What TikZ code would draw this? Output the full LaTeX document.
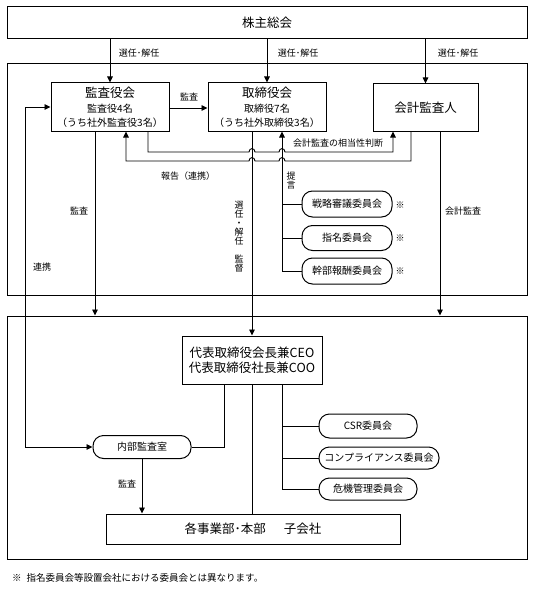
\documentclass[tikz,border=0pt]{standalone}
\usepackage{fontspec}
\setmainfont{Noto Sans CJK JP}
\usetikzlibrary{arrows.meta}
\begin{document}
\begin{tikzpicture}[x=1pt,y=-1pt,
  every node/.style={inner sep=0pt},
  box/.style={draw, line width=1pt, align=center},
  frame/.style={draw, line width=1pt},
  pill/.style={draw, line width=1pt, rounded corners=10.5pt, align=center, font=\fontsize{10}{12}\selectfont},
  lbl/.style={font=\fontsize{9}{10}\selectfont},
  vlbl/.style={font=\fontsize{9}{9}\selectfont, align=center},
  conn/.style={line width=0.9pt},
  arr/.style={conn, -{Triangle[length=6pt,width=5.5pt]}},
  arrboth/.style={conn, {Triangle[length=6pt,width=5.5pt]}-{Triangle[length=6pt,width=5.5pt]}},
]
\useasboundingbox (0,0) rectangle (533,591);

% frames and boxes
\node[box, minimum width=520, minimum height=32, font=\fontsize{12.5}{14}\selectfont] (gm) at (267,23) {株主総会};
\node[frame, minimum width=520, minimum height=231] (f1) at (267,179.5) {};
\node[frame, minimum width=520, minimum height=243] (f2) at (267,437.5) {};

\node[box, minimum width=118, minimum height=48, font=\fontsize{10}{13.5}\selectfont] (kansa) at (110,107)
  {{\fontsize{12.5}{13.5}\selectfont 監査役会}\\[2pt]監査役4名\\（うち社外監査役3名）};
\node[box, minimum width=118, minimum height=48, font=\fontsize{10}{13.5}\selectfont] (tori) at (267,107)
  {{\fontsize{12.5}{13.5}\selectfont 取締役会}\\[2pt]取締役7名\\（うち社外取締役3名）};
\node[box, minimum width=105, minimum height=47, font=\fontsize{12.5}{14}\selectfont] (kaikei) at (425.5,107.5) {会計監査人};

\node[pill, minimum width=90, minimum height=26] (senryaku) at (347,204) {戦略審議委員会};
\node[pill, minimum width=90, minimum height=25] (shimei) at (347,238) {指名委員会};
\node[pill, minimum width=90, minimum height=26] (kanbu) at (347,271) {幹部報酬委員会};

\node[box, minimum width=140, minimum height=48, font=\fontsize{12.5}{15}\selectfont] (ceo) at (252,360)
  {代表取締役会長兼CEO\\代表取締役社長兼COO};
\node[pill, minimum width=98, minimum height=23] (naibu) at (142,447) {内部監査室};
\node[pill, minimum width=98, minimum height=24] (csr) at (368,426) {CSR委員会};
\node[pill, minimum width=120, minimum height=22] (comp) at (379,458) {コンプライアンス委員会};
\node[pill, minimum width=98, minimum height=22] (kiki) at (368,489) {危機管理委員会};
\node[box, minimum width=294, minimum height=30, font=\fontsize{12.5}{14}\selectfont] (jigyo) at (253,529)
  {各事業部･本部\hspace{18pt}子会社};

% election arrows
\draw[arr] (gm.south -| kansa.north) -- (kansa.north);
\draw[arr] (gm.south -| tori.north) -- (tori.north);
\draw[arr] (gm.south -| kaikei.north) -- (kaikei.north);
\node[lbl] (l1) at (139,53) {選任･解任};
\node[lbl] (l2) at (298,53) {選任･解任};
\node[lbl] (l3) at (458,53) {選任･解任};

% kansa -> tori
\draw[arr] (kansa.east |- 0,108) -- (tori.west |- 0,108);
\node[lbl] (l4) at (189,97) {監査};

% renkei
\draw[arrboth] (kansa.west) -- (25,107) |- (naibu.west);
\node[lbl] (l5) at (42,267) {連携};

% kansa audit down
\draw[arr] (kansa.south -| 95,0) -- (f2.north -| 95,0);
\node[lbl] (l6) at (79,211) {監査};

% soutousei
\draw[arr] (kansa.south -| 148,0) -- (148,152) -- (249,152)
  .. controls (249,147.5) and (255,147.5) .. (255,152) -- (279,152)
  .. controls (279,147.5) and (285,147.5) .. (285,152) -- (393,152) -- (kaikei.south -| 393,0);
\node[lbl] (l7) at (338,143) {会計監査の相当性判断};

% houkoku
\draw[arr] (kaikei.south -| 411,0) -- (411,161) -- (285,161)
  .. controls (285,156.5) and (279,156.5) .. (279,161) -- (255,161)
  .. controls (255,156.5) and (249,156.5) .. (249,161) -- (126,161) -- (kansa.south -| 126,0);
\node[lbl] (l8) at (188,176) {報告（連携）};

% tori -> ceo
\draw[arr] (tori.south -| 252,0) -- (ceo.north -| 252,0);
\node[vlbl] (l9) at (239,237) {選\\任\\・\\解\\任\\[9pt]監\\督};

% teigen
\draw[arr] (kanbu.west -| 282,0) -- (tori.south -| 282,0);
\draw[conn] (senryaku.west -| 282,0) -- (senryaku.west);
\draw[conn] (shimei.west -| 282,0) -- (shimei.west);
\draw[conn] (kanbu.west -| 282,0) -- (kanbu.west);
\node[vlbl] (l10) at (291,181) {提\\言};
\node[lbl] (m1) at (400,205) {※};
\node[lbl] (m2) at (400,238) {※};
\node[lbl] (m3) at (400,271) {※};

% kaikei audit
\draw[arr] (kaikei.south -| 440,0) -- (f2.north -| 440,0);
\node[lbl] (l11) at (463,211) {会計監査};

% ceo lines
\draw[conn] (ceo.south -| 224,0) |- (naibu.east);
\draw[conn] (ceo.south -| 252,0) -- (jigyo.north -| 252,0);
\draw[conn] (ceo.south -| 282,0) |- (kiki.west);
\draw[conn] (csr.west -| 282,0) -- (csr.west);
\draw[conn] (comp.west -| 282,0) -- (comp.west);

% naibu audit
\draw[arr] (naibu.south) -- (jigyo.north -| naibu.south);
\node[lbl] (l12) at (127,484) {監査};

% footnote
\node[anchor=west, font=\fontsize{9.5}{11}\selectfont] (fn) at (12,578) {※\hspace{5pt}指名委員会等設置会社における委員会とは異なります。};
\end{tikzpicture}
\end{document}
